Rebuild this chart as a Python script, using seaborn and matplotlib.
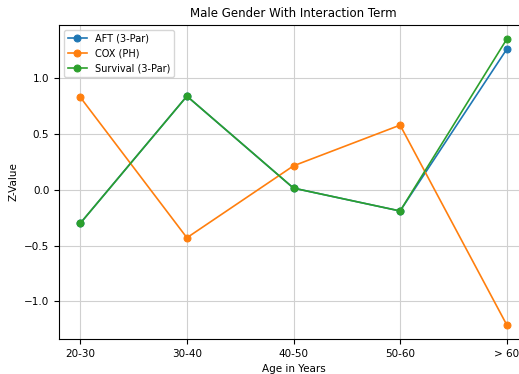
import matplotlib
matplotlib.use("Agg")
import matplotlib.pyplot as plt
import seaborn as sns

# age groups on the x axis
age_groups = ["20-30", "30-40", "40-50", "50-60", "> 60"]

# z-values
aft_3par = [-0.30, 0.84, 0.015, -0.19, 1.26]
cox_ph = [0.83, -0.43, 0.215, 0.58, -1.21]
survival_3par = [-0.30, 0.84, 0.015, -0.19, 1.35]

series = [
    ("AFT (3-Par)", aft_3par, "#1f77b4"),
    ("COX (PH)", cox_ph, "#ff7f0e"),
    ("Survival (3-Par)", survival_3par, "#2ca02c"),
]

fig = plt.figure(figsize=(5.19, 3.74), dpi=100)
ax = fig.add_axes([59 / 519, 35 / 374, 469 / 519, 314 / 374])

for name, values, color in series:
    sns.lineplot(x=age_groups, y=values, marker="o", markersize=5,
                 markeredgecolor=color, linewidth=1.2, color=color,
                 label=name, ax=ax, sort=False)

ax.grid(True, color="#d0d0d0", linewidth=0.8)
ax.set_title("Male Gender With Interaction Term", fontsize=8.5)
ax.set_xlabel("Age in Years", fontsize=7.5)
ax.set_ylabel("Z-Value", fontsize=7.5)
ax.tick_params(labelsize=7.5)
ax.legend(loc="upper left", fontsize=7, framealpha=0.8)

fig.savefig("out.png", dpi=100)
